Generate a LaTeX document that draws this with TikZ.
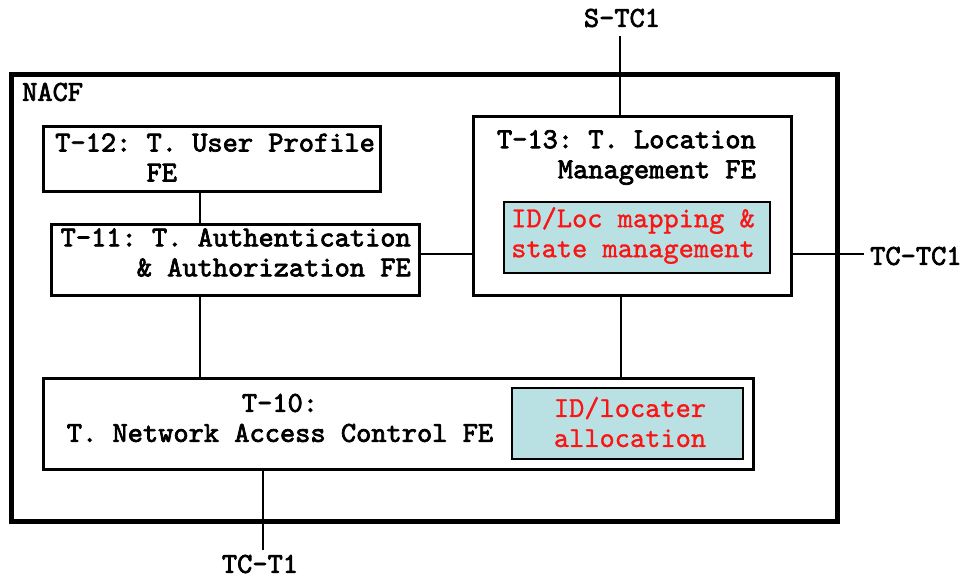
\documentclass[tikz,border=0pt]{standalone}
\usepackage{fontspec}
\setmonofont{lmmono10-regular.otf}[BoldFont=lmmono10-regular.otf,BoldFeatures={FakeBold=2.5}]
\usetikzlibrary{positioning}
\definecolor{BoxClr}{RGB}{185,224,226}
\definecolor{LocClr}{RGB}{250,20,20}

\begin{document}
\begin{tikzpicture}[x=1pt,y=-1pt,
  fe/.style={draw,line width=3pt,inner sep=0pt},
  sub/.style={draw,line width=2.5pt,fill=BoxClr,inner sep=0pt},
  lbl/.style={font=\ttfamily\bfseries\frenchspacing\fontsize{29}{30}\selectfont,inner sep=0pt},
  loctxt/.style={font=\ttfamily\addfontfeature{FakeBold=1}\frenchspacing\fontsize{29}{30}\selectfont,text=LocClr,inner sep=0pt,align=center},
  wire/.style={line width=2.5pt}]
\useasboundingbox (0,0) rectangle (962,580);

\draw[line width=5pt] (11,75) rectangle (837,521);
\node[lbl,anchor=west] (nacf) at (22,92) {NACF};

\node[fe,minimum width=337pt,minimum height=65pt] (t12) at (211.5,159.5) {};
\node[fe,minimum width=368pt,minimum height=71pt] (t11) at (235,260.5) {};
\node[fe,minimum width=318pt,minimum height=179pt] (t13) at (632,206.5) {};
\node[sub,minimum width=266pt,minimum height=71pt] (locmap) at (637,237.5) {};
\node[fe,minimum width=710pt,minimum height=91pt] (t10) at (398,423.5) {};
\node[sub,minimum width=231pt,minimum height=71pt] (alloc) at (627.5,423.5) {};

\node[lbl,anchor=west,align=left] (t12txt) at (55,157.5) {T-12: T. User Profile\\\phantom{T-12: }FE};
\node[lbl,anchor=east,align=right] (t11txt) at (411,252.5) {T-11: T. Authentication\\\& Authorization FE};
\node[lbl,anchor=east,align=right] (t13txt) at (756,157.5) {T-13: T. Location\\Management FE};
\node[loctxt] (locmaptxt) at (633,235.5) {ID/Loc mapping \&\\ state management};
\node[lbl,align=center] (t10txt) at (280,418) {T-10:\\T. Network Access Control FE};
\node[loctxt] (alloctxt) at (630,422) {ID/locater\\allocation};

\node[lbl] (stc1) at (622,18) {S-TC1};
\node[lbl,anchor=west] (tctc1) at (870,256) {TC-TC1};
\node[lbl] (tct1) at (260,564) {TC-T1};

\coordinate (xa) at (200,0);
\coordinate (xb) at (621,0);
\coordinate (xc) at (263,0);
\coordinate (ya) at (0,254);
\coordinate (stop) at (620,36);
\coordinate (rend) at (864,254);
\coordinate (bend) at (263,550);

\draw[wire] (t12.south -| xa) -- (t11.north -| xa);
\draw[wire] (t11.east |- ya) -- (t13.west |- ya);
\draw[wire] (t11.south -| xa) -- (t10.north -| xa);
\draw[wire] (t13.south -| xb) -- (t10.north -| xb);
\draw[wire] (stop) -- (t13.north -| stop);
\draw[wire] (t13.east |- ya) -- (rend);
\draw[wire] (t10.south -| xc) -- (bend);
\end{tikzpicture}
\end{document}
